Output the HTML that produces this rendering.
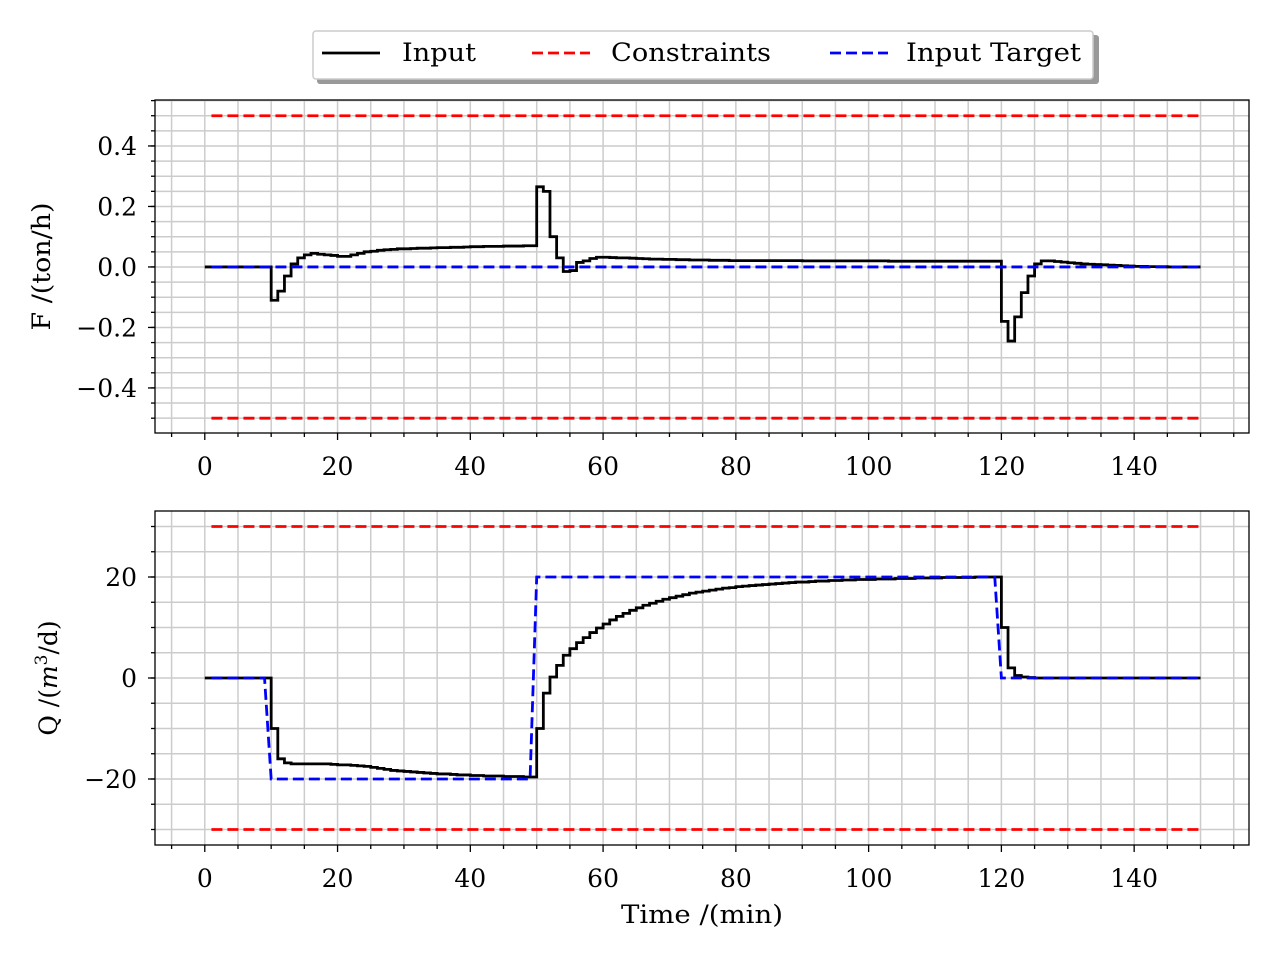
<!DOCTYPE html>
<html><head><meta charset="utf-8"><style>
html,body{margin:0;padding:0;background:#fff;}
svg{display:block;font-family:"DejaVu Serif","Liberation Serif",serif;}
</style></head><body>
<svg id="chart" width="1280" height="960" xmlns="http://www.w3.org/2000/svg">
<g id="legend">
<rect x="317" y="35" width="782" height="49" rx="3" fill="#999"/>
<rect x="313" y="31" width="780" height="48" rx="3" fill="#fff" stroke="#ccc" stroke-width="1.5"/>
<g><line x1="322" y1="53" x2="380" y2="53" stroke="#000" stroke-width="2.8"/><text x="402" y="61" font-size="25" textLength="74" lengthAdjust="spacingAndGlyphs">Input</text></g>
<g><line x1="532" y1="53" x2="590" y2="53" stroke="red" stroke-width="2.8" stroke-dasharray="11,5"/><text x="611" y="61" font-size="25" textLength="160" lengthAdjust="spacingAndGlyphs">Constraints</text></g>
<g><line x1="830" y1="53" x2="888" y2="53" stroke="blue" stroke-width="2.8" stroke-dasharray="11,5"/><text x="906" y="61" font-size="25" textLength="175" lengthAdjust="spacingAndGlyphs">Input Target</text></g>
</g>
</svg>
<script>
const F_input = [0,0,0,0,0,0,0,0,0,0,
-0.11,-0.08,-0.03,0.01,0.03,0.04,0.045,0.042,0.04,0.038,
0.035,0.035,0.04,0.045,0.05,0.052,0.055,0.057,0.058,0.06,
0.06,0.061,0.062,0.062,0.063,0.064,0.064,0.065,0.065,0.066,
0.067,0.067,0.068,0.068,0.068,0.069,0.069,0.069,0.07,0.07,
0.265,0.25,0.1,0.03,-0.015,-0.012,0.015,0.02,0.028,0.032,
0.032,0.031,0.03,0.03,0.029,0.028,0.027,0.026,0.026,0.025,
0.025,0.024,0.024,0.023,0.023,0.023,0.022,0.022,0.022,0.021,
0.021,0.021,0.021,0.021,0.021,0.021,0.021,0.021,0.021,0.021,
0.02,0.02,0.02,0.02,0.02,0.02,0.02,0.02,0.02,0.02,
0.02,0.02,0.02,0.019,0.019,0.019,0.019,0.019,0.019,0.019,
0.019,0.019,0.019,0.019,0.019,0.019,0.019,0.019,0.019,0.019,
-0.18,-0.245,-0.165,-0.085,-0.03,0.01,0.02,0.02,0.018,0.016,
0.014,0.012,0.01,0.009,0.008,0.007,0.006,0.005,0.004,0.003,
0.002,0.002,0.001,0.001,0.001,0,0,0,0,0];
const Q_input = [0,0,0,0,0,0,0,0,0,0,
-10,-16,-16.8,-17,-17,-17,-17,-17,-17,-17.1,
-17.2,-17.2,-17.3,-17.4,-17.5,-17.7,-17.9,-18.1,-18.3,-18.4,
-18.5,-18.6,-18.7,-18.8,-18.9,-19,-19,-19.1,-19.2,-19.2,
-19.3,-19.3,-19.4,-19.4,-19.4,-19.5,-19.5,-19.5,-19.6,-19.6,
-10,-3,0.2,2.5,4.5,5.8,7,8,9,9.9,
10.7,11.5,12.2,12.8,13.4,13.9,14.4,14.8,15.2,15.6,
15.9,16.2,16.5,16.8,17,17.2,17.4,17.6,17.8,17.9,
18.1,18.2,18.3,18.4,18.5,18.6,18.7,18.8,18.9,19,
19,19.1,19.2,19.2,19.3,19.3,19.4,19.4,19.5,19.5,
19.5,19.6,19.6,19.6,19.7,19.7,19.7,19.8,19.8,19.8,
19.8,19.9,19.9,19.9,19.9,19.9,20,20,20,20,
10,2,0.5,0.2,0.1,0,0,0,0,0,
0,0,0,0,0,0,0,0,0,0,
0,0,0,0,0,0,0,0,0,0];
const F_target_breaks = [[1,0],[150,0]];
const Q_target_breaks = [[1,0],[9,0],[10,-20],[49,-20],[50,20],[119,20],[120,0],[150,0]];
const F_constraints = [-0.5,0.5];
const Q_constraints = [-30,30];
const xTicks = [0,20,40,60,80,100,120,140];
const F_ticks = [-0.4,-0.2,0.0,0.2,0.4];
const F_tickLabels = ["\u22120.4","\u22120.2","0.0","0.2","0.4"];
const Q_ticks = [-20,0,20];
const Q_tickLabels = ["\u221220","0","20"];

const svg = document.getElementById('chart');
const NS = 'http://www.w3.org/2000/svg';
function mk(tag, attrs, parent){const e=document.createElementNS(NS,tag);for(const k in attrs)e.setAttribute(k,attrs[k]);(parent||svg).appendChild(e);return e;}

const L=155,R=1249, xmin=-7.5, xmax=157.3;
const xs = t => L + (t - xmin)/(xmax - xmin)*(R-L);

function panel(name, top, bot, ymin, ymax, minorStep, gridStep, ticks, labels, inp, tgt, cons, ylabelFn){
  const ys = v => bot - (v - ymin)/(ymax - ymin)*(bot-top);
  const g = mk('g',{});
  
  
  const grid = mk('g',{stroke:'#cccccc','stroke-width':1.5},g);
  
  
  for(let t=-5;t<=155;t+=5){ mk('line',{x1:xs(t),x2:xs(t),y1:top,y2:bot},grid); }
  for(let v=Math.ceil(ymin/gridStep)*gridStep; v<=ymax; v+=gridStep){ mk('line',{x1:L,x2:R,y1:ys(v),y2:ys(v)},grid); }
  cons.forEach(c=>{
    const l = mk('line',{x1:xs(1),x2:xs(150),y1:ys(c),y2:ys(c),stroke:'red','stroke-width':2.8,'stroke-dasharray':'11,5'},g);
    
    
  });
  let d = 'M'+xs(0)+','+ys(inp[0]);
  for(let k=0;k<inp.length;k++){ d += ' L'+xs(k)+','+ys(inp[k])+' L'+xs(k+1)+','+ys(inp[k]); }
  const p = mk('path',{d:d,fill:'none',stroke:'#000','stroke-width':2.8,'stroke-linejoin':'miter'},g);
  
  
  const td = tgt.map((pt,i)=>(i?'L':'M')+xs(pt[0])+','+ys(pt[1])).join(' ');
  const tp = mk('path',{d:td,fill:'none',stroke:'blue','stroke-width':2.8,'stroke-dasharray':'11,5'},g);
  
  
  mk('rect',{x:L,y:top,width:R-L,height:bot-top,fill:'none',stroke:'#000','stroke-width':1.3},g);
  for(let t=-5;t<=155;t+=5){ const maj = xTicks.includes(t); mk('line',{x1:xs(t),x2:xs(t),y1:bot,y2:bot+(maj?7:4),stroke:'#000','stroke-width':1.3},g); }
  xTicks.forEach(t=>{ const tx=mk('text',{x:xs(t),y:bot+42,'font-size':25,'text-anchor':'middle'},g); tx.textContent=t;
    
     });
  for(let v=Math.ceil(ymin/minorStep)*minorStep; v<=ymax+1e-9; v+=minorStep){ mk('line',{x1:L,x2:L-4,y1:ys(v),y2:ys(v),stroke:'#000','stroke-width':1.3},g); }
  ticks.forEach((v,i)=>{ mk('line',{x1:L,x2:L-7,y1:ys(v),y2:ys(v),stroke:'#000','stroke-width':1.3},g);
    const tx=mk('text',{x:L-18,y:ys(v)+9,'font-size':25,'text-anchor':'end'},g); tx.textContent=labels[i];
    
     });
  ylabelFn(g,(top+bot)/2);
}

panel('flow',100,433,-0.549,0.552,0.05,0.05,F_ticks,F_tickLabels,F_input,F_target_breaks,F_constraints,(g,cy)=>{
  const t=mk('text',{x:0,y:0,'font-size':25,'text-anchor':'middle',textLength:128,lengthAdjust:'spacingAndGlyphs',transform:`translate(50,${cy}) rotate(-90)`},g);
  t.textContent='F /(ton/h)';
  
  
});
panel('q',511,845,-33.07,33.07,5,5,Q_ticks,Q_tickLabels,Q_input,Q_target_breaks,Q_constraints,(g,cy)=>{
  const t=mk('text',{x:0,y:0,'font-size':25,'text-anchor':'middle',transform:`translate(57,${cy}) rotate(-90)`},g);
  t.innerHTML='Q /(<tspan font-style="italic">m</tspan><tspan dy="-10" font-size="17">3</tspan><tspan dy="10">/d)</tspan>';
  
  
  const xt=mk('text',{x:(L+R)/2,y:923,'font-size':25,'text-anchor':'middle',textLength:162,lengthAdjust:'spacingAndGlyphs'},g);
  xt.textContent='Time /(min)';
  
  
});
svg.appendChild(document.getElementById('legend'));
</script>
</body></html>
